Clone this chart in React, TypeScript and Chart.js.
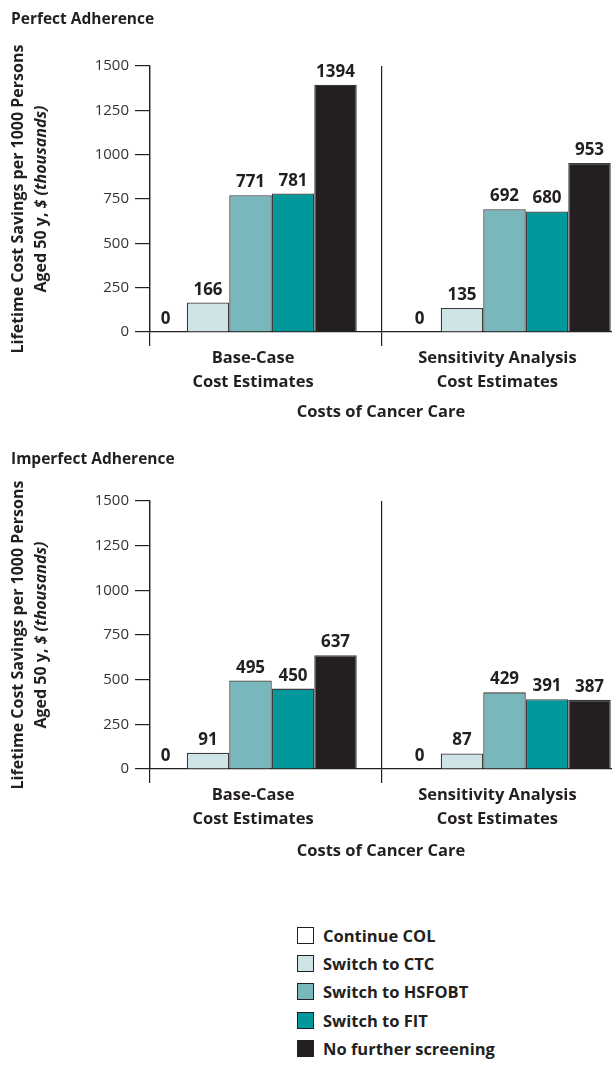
import React, { useEffect, useRef } from "react";
import { Chart, registerables } from "chart.js";

Chart.register(...registerables);

// ---------- data ----------
const categories: string[][] = [
  ["Base-Case", "Cost Estimates"],
  ["Sensitivity Analysis", "Cost Estimates"],
];
const seriesNames = [
  "Continue COL",
  "Switch to CTC",
  "Switch to HSFOBT",
  "Switch to FIT",
  "No further screening",
];
const perfectContinueCOL = [0, 0];
const perfectCTC = [166, 135];
const perfectHSFOBT = [771, 692];
const perfectFIT = [781, 680];
const perfectNoScreening = [1394, 953];

const imperfectContinueCOL = [0, 0];
const imperfectCTC = [91, 87];
const imperfectHSFOBT = [495, 429];
const imperfectFIT = [450, 391];
const imperfectNoScreening = [637, 387];

const yTicks = [0, 250, 500, 750, 1000, 1250, 1500];
const panelTitles = ["Perfect Adherence", "Imperfect Adherence"];
const xTitle = "Costs of Cancer Care";
const yTitleLine1 = "Lifetime Cost Savings per 1000 Persons";
const yTitleLine2 = [
  { text: "Aged 50 y, ", italic: false },
  { text: "$", italic: true },
  { text: " ", italic: false },
  { text: "(thousands)", italic: true },
];

// ---------- styles ----------
const seriesColors = ["#ffffff", "#cde3e6", "#78b8bd", "#00989b", "#231f20"];
const FONT = '"Open Sans", "DejaVu Sans", sans-serif';
const INK = "#231f20";

// linear x-scale extents (layout, not data)
const X_MIN = 0.6043;
const X_MAX = 2.4232;
const DIVIDER = 1.516;
const LABEL_POS = [1.01, 1.972];

const panels = [
  {
    title: panelTitles[0],
    series: [perfectContinueCOL, perfectCTC, perfectHSFOBT, perfectFIT, perfectNoScreening],
    top: 0,
    padTop: 66,
    axisHeight: 103,
    titleBaseline: 24,
    xTitlePadBottom: 13,
  },
  {
    title: panelTitles[1],
    series: [imperfectContinueCOL, imperfectCTC, imperfectHSFOBT, imperfectFIT, imperfectNoScreening],
    top: 435,
    padTop: 66,
    axisHeight: 101,
    titleBaseline: 29,
    xTitlePadBottom: 9,
  },
];

const valueLabelPlugin = {
  id: "valueLabels",
  afterDatasetsDraw(chart: any) {
    const ctx = chart.ctx;
    ctx.save();
    ctx.font = `bold 17px ${FONT}`;
    ctx.fillStyle = INK;
    ctx.textAlign = "center";
    ctx.textBaseline = "alphabetic";
    chart.data.datasets.forEach((ds: any, i: number) => {
      const meta = chart.getDatasetMeta(i);
      meta.data.forEach((el: any, j: number) => {
        ctx.fillText(String(ds.data[j].y), el.x, el.y - 8);
      });
    });
    ctx.restore();
  },
};

const textPlugin = {
  id: "panelText",
  afterDraw(chart: any, _args: any, opts: any) {
    const { ctx, chartArea } = chart;
    const cy = (chartArea.top + chartArea.bottom) / 2;
    ctx.save();
    ctx.fillStyle = INK;
    // panel title
    ctx.font = `bold 15.5px ${FONT}`;
    ctx.textAlign = "left";
    ctx.textBaseline = "alphabetic";
    ctx.fillText(opts.title, 11, opts.titleBaseline);
    // y title line 1
    ctx.save();
    ctx.translate(18, cy);
    ctx.rotate(-Math.PI / 2);
    ctx.textAlign = "center";
    ctx.textBaseline = "middle";
    ctx.font = `bold 16px ${FONT}`;
    ctx.fillText(yTitleLine1, 0, 0);
    ctx.restore();
    // y title line 2 (mixed italics)
    ctx.save();
    ctx.translate(41, cy);
    ctx.rotate(-Math.PI / 2);
    ctx.textBaseline = "middle";
    ctx.textAlign = "left";
    const fontFor = (it: boolean) => `${it ? "italic " : ""}bold 16px ${FONT}`;
    let total = 0;
    yTitleLine2.forEach((s) => {
      ctx.font = fontFor(s.italic);
      total += ctx.measureText(s.text).width;
    });
    let x = -total / 2;
    yTitleLine2.forEach((s) => {
      ctx.font = fontFor(s.italic);
      ctx.fillText(s.text, x, 0);
      x += ctx.measureText(s.text).width;
    });
    ctx.restore();
    ctx.restore();
  },
};

function Panel({ cfg }: { cfg: (typeof panels)[number] }) {
  const ref = useRef<HTMLCanvasElement | null>(null);
  useEffect(() => {
    if (!ref.current) return;
    const chart = new Chart(ref.current, {
      type: "bar",
      data: {
        datasets: seriesNames.map((name, si) => ({
          label: name,
          data: cfg.series[si].map((v, ci) => ({ x: ci + 1, y: v })),
          backgroundColor: seriesColors[si],
          borderColor: "#3a3a3a",
          borderWidth: 1.3,
          borderSkipped: "start",
          xAxisID: "x",
          yAxisID: "y",
        })),
      },
      options: {
        animation: false,
        responsive: false,
        maintainAspectRatio: false,
        layout: { padding: { top: cfg.padTop, left: 0, right: 0, bottom: 0 } },
        datasets: { bar: { categoryPercentage: 0.8366, barPercentage: 1 } },
        plugins: {
          legend: { display: false },
          tooltip: { enabled: false },
          title: { display: false },
          panelText: { title: cfg.title, titleBaseline: cfg.titleBaseline },
        } as any,
        scales: {
          x: {
            type: "linear",
            display: false,
            offset: false,
            grid: { offset: false },
            min: X_MIN,
            max: X_MAX,
            afterBuildTicks: (s: any) => {
              s.ticks = categories.map((_, i) => ({ value: i + 1 }));
            },
          },
          xg: {
            type: "linear",
            position: "bottom",
            offset: false,
            min: X_MIN,
            max: X_MAX,
            afterBuildTicks: (s: any) => {
              s.ticks = [X_MIN, LABEL_POS[0], DIVIDER, LABEL_POS[1]].map((v) => ({ value: v }));
            },
            afterFit: (s: any) => {
              s.height = cfg.axisHeight;
            },
            grid: {
              offset: false,
              drawOnChartArea: true,
              color: (c: any) => (c.index === 0 || c.index === 2 ? INK : "rgba(0,0,0,0)"),
              lineWidth: 1.2,
              tickLength: 14,
            },
            border: { display: true, color: INK, width: 1.3 },
            ticks: {
              autoSkip: false,
              maxRotation: 0,
              minRotation: 0,
              padding: 0,
              color: INK,
              font: { family: FONT, size: 16.5, weight: "bold", lineHeight: 1.45 },
              callback: (_v: any, i: number) => (i === 1 ? categories[0] : i === 3 ? categories[1] : ""),
            },
            title: {
              display: true,
              text: xTitle,
              color: INK,
              font: { family: FONT, size: 16.5, weight: "bold", lineHeight: 1.2 },
              padding: { top: 4, bottom: cfg.xTitlePadBottom },
            },
          },
          y: {
            type: "linear",
            min: 0,
            max: 1500,
            afterBuildTicks: (s: any) => {
              s.ticks = yTicks.map((v) => ({ value: v }));
            },
            afterFit: (s: any) => {
              s.width = 150;
            },
            grid: { drawOnChartArea: false, tickLength: 15, color: INK, lineWidth: 1.2 },
            border: { display: true, color: INK, width: 1.3 },
            ticks: {
              padding: 6,
              color: "#333333",
              font: { family: FONT, size: 15, weight: "normal" },
              callback: (v: any) => String(v),
            },
          },
        } as any,
      },
      plugins: [valueLabelPlugin, textPlugin],
    } as any);
    return () => chart.destroy();
  }, [cfg]);
  return (
    <canvas
      ref={ref}
      width={612}
      height={435}
      style={{ position: "absolute", left: 0, top: cfg.top, width: 612, height: 435, display: "block" }}
    />
  );
}

export default function App() {
  return (
    <div style={{ position: "absolute", left: 0, top: 0, width: 612, height: 1066, background: "#fff", overflow: "hidden" }}>
      {panels.map((p) => (
        <Panel key={p.title} cfg={p} />
      ))}
      <div style={{ position: "absolute", left: 297, top: 921 }}>
        {seriesNames.map((n, i) => (
          <div key={n} style={{ display: "flex", alignItems: "center", height: 28.4 }}>
            <span
              style={{
                display: "inline-block",
                width: 17,
                height: 17,
                boxSizing: "border-box",
                background: seriesColors[i],
                border: `1px solid ${INK}`,
                marginRight: 9,
              }}
            />
            <span style={{ font: `bold 16.5px ${FONT}`, color: INK, whiteSpace: "nowrap" }}>{n}</span>
          </div>
        ))}
      </div>
    </div>
  );
}
